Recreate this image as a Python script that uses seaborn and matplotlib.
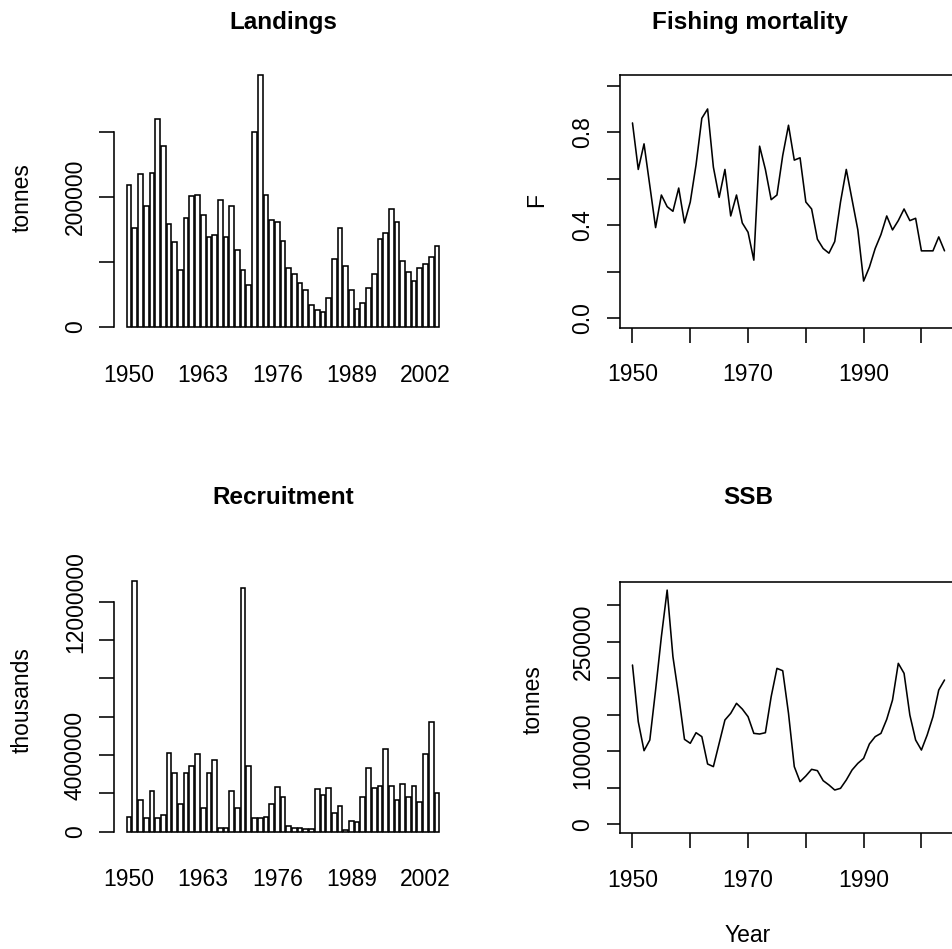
import matplotlib
matplotlib.use("Agg")
import matplotlib.pyplot as plt
import seaborn as sns

# ---------------- data ----------------
years = list(range(1950, 2005))

landings = [218000, 153000, 235000, 187000, 237000, 320000, 279000, 158000, 130000, 88000,
            167000, 201000, 204000, 173000, 139000, 142000, 195000, 139000, 187000, 119000,
            88000, 65000, 300000, 388000, 204000, 164000, 161000, 133000, 91000, 82000,
            68000, 57000, 33000, 26000, 22000, 45000, 104000, 153000, 93000, 57000,
            28000, 37000, 60000, 82000, 135000, 144000, 181000, 161000, 102000, 85000,
            71000, 91000, 97000, 108000, 125000]

recruitment = [780000, 13100000, 1650000, 700000, 2140000, 700000, 870000, 4120000, 3080000, 1440000,
               3080000, 3440000, 4030000, 1250000, 3080000, 3740000, 210000, 210000, 2140000, 1250000,
               12730000, 3440000, 700000, 700000, 780000, 1440000, 2310000, 1830000, 300000, 210000,
               210000, 120000, 120000, 2210000, 1910000, 2300000, 960000, 1340000, 90000, 570000,
               490000, 1830000, 3340000, 2260000, 2380000, 4310000, 2380000, 1650000, 2490000, 1830000,
               2380000, 1530000, 4030000, 5740000, 2000000]

fmort = [0.84, 0.64, 0.75, 0.57, 0.39, 0.53, 0.48, 0.46, 0.56, 0.41,
         0.50, 0.66, 0.86, 0.90, 0.65, 0.52, 0.64, 0.44, 0.53, 0.41,
         0.37, 0.25, 0.74, 0.64, 0.51, 0.53, 0.70, 0.83, 0.68, 0.69,
         0.50, 0.47, 0.34, 0.30, 0.28, 0.33, 0.50, 0.64, 0.51, 0.38,
         0.16, 0.22, 0.30, 0.36, 0.44, 0.38, 0.42, 0.47, 0.42, 0.43,
         0.29, 0.29, 0.29, 0.35, 0.29]

ssb = [217900, 140400, 100700, 115300, 183700, 256600, 320400, 229300, 175500, 116200,
       110800, 125300, 119900, 82500, 78900, 110800, 142700, 151800, 165500, 157700,
       147200, 124400, 123500, 125300, 174600, 213300, 210100, 151800, 78900, 58300,
       66100, 75200, 73400, 59700, 53800, 46900, 49200, 60600, 74300, 83400,
       90200, 109900, 119900, 124400, 143600, 170000, 220200, 206500, 149500, 115300,
       101600, 122200, 147200, 183700, 197400]

bar_tick_idx = [0, 13, 26, 39, 52]
bar_tick_labels = ["1950", "1963", "1976", "1989", "2002"]
line_xticks = [1950, 1960, 1970, 1980, 1990, 2000]
line_xlabels = ["1950", "", "1970", "", "1990", ""]
land_yticks = [0, 100000, 200000, 300000]
land_ylabels = ["0", "", "200000", ""]
rec_yticks = [0, 2000000, 4000000, 6000000, 8000000, 10000000, 12000000]
rec_ylabels = ["0", "", "4000000", "", "", "", "12000000"]
f_yticks = [0.0, 0.2, 0.4, 0.6, 0.8, 1.0]
f_ylabels = ["0.0", "", "0.4", "", "0.8", ""]
ssb_yticks = [0, 50000, 100000, 150000, 200000, 250000, 300000]
ssb_ylabels = ["0", "", "100000", "", "", "250000", ""]

# ---------------- style ----------------
sns.set_style("white")
plt.rcParams["font.family"] = ["Liberation Sans", "DejaVu Sans"]
for k in ["text.color", "axes.labelcolor", "xtick.color", "ytick.color", "axes.edgecolor"]:
    plt.rcParams[k] = "black"
FS = 16.5
LW = 1.15
W, H = 953, 949
PT = 0.72  # points per pixel at dpi 100

fig = plt.figure(figsize=(W / 100, H / 100), dpi=100)


def axpos(l, t, r, b):
    return [l / W, 1 - b / H, (r - l) / W, (b - t) / H]


def ftext(x, y, s, **kw):
    fig.text(x / W, 1 - y / H, s, ha="center", va="center", color="black", **kw)


def style_bar_axes(ax, yticks, ylabels, spine_top):
    for s in ["top", "right", "bottom"]:
        ax.spines[s].set_visible(False)
    ax.spines["left"].set_linewidth(LW)
    ax.spines["left"].set_color("black")
    ax.spines["left"].set_bounds(0, spine_top)
    ax.set_yticks(yticks)
    ax.set_yticklabels(ylabels, rotation=90, ha="center", va="center", fontsize=FS, color="black")
    ax.tick_params(axis="y", direction="out", length=14.7 * PT, width=LW,
                   pad=24 * PT, left=True, color="black")
    ax.set_xticks(bar_tick_idx)
    ax.set_xticklabels(bar_tick_labels, va="center", fontsize=FS, color="black")
    ax.tick_params(axis="x", length=0, pad=35 * PT, bottom=True)
    ax.set_xlabel("")
    ax.set_ylabel("")


def style_line_axes(ax, yticks, ylabels):
    for s in ["top", "right", "bottom", "left"]:
        ax.spines[s].set_visible(True)
        ax.spines[s].set_linewidth(LW)
        ax.spines[s].set_color("black")
    ax.set_xticks(line_xticks)
    ax.set_xticklabels(line_xlabels, va="center", fontsize=FS, color="black")
    ax.tick_params(axis="x", direction="out", length=15 * PT, width=LW,
                   pad=32 * PT, bottom=True, color="black")
    ax.set_yticks(yticks)
    ax.set_yticklabels(ylabels, rotation=90, ha="center", va="center", fontsize=FS, color="black")
    ax.tick_params(axis="y", direction="out", length=13 * PT, width=LW,
                   pad=24 * PT, left=True, color="black")
    ax.set_xlabel("")
    ax.set_ylabel("")


BAR_W = 1 / 1.2

# Landings
ax1 = fig.add_axes(axpos(114, 60, 453, 340))
sns.barplot(x=years, y=landings, color="white", edgecolor="black", linewidth=LW,
            width=BAR_W, saturation=1, errorbar=None, ax=ax1)
ax1.set_xlim(-2.644, 56.82)
ax1.set_ylim(-20525, 411574)
style_bar_axes(ax1, land_yticks, land_ylabels, 300000)

# Recruitment
ax3 = fig.add_axes(axpos(114, 565, 453, 845))
sns.barplot(x=years, y=recruitment, color="white", edgecolor="black", linewidth=LW,
            width=BAR_W, saturation=1, errorbar=None, ax=ax3)
ax3.set_xlim(-2.644, 56.82)
ax3.set_ylim(-693600, 13909000)
style_bar_axes(ax3, rec_yticks, rec_ylabels, 12000000)

# Fishing mortality
ax2 = fig.add_axes(axpos(620, 75, 957, 327.7))
sns.lineplot(x=years, y=fmort, color="black", linewidth=LW, ax=ax2)
ax2.set_xlim(1947.84, 2006.16)
ax2.set_ylim(-0.0404, 1.046)
style_line_axes(ax2, f_yticks, f_ylabels)

# SSB
ax4 = fig.add_axes(axpos(620, 581.7, 957, 833.3))
sns.lineplot(x=years, y=ssb, color="black", linewidth=LW, ax=ax4)
ax4.set_xlim(1947.84, 2006.16)
ax4.set_ylim(-12312, 331874)
style_line_axes(ax4, ssb_yticks, ssb_ylabels)

# titles and axis labels
TFS = 17.5
ftext(283, 22, "Landings", fontsize=TFS, fontweight="bold")
ftext(750, 22, "Fishing mortality", fontsize=TFS, fontweight="bold")
ftext(283, 497, "Recruitment", fontsize=TFS, fontweight="bold")
ftext(748, 497, "SSB", fontsize=TFS, fontweight="bold")
ftext(22, 198, "tonnes", fontsize=FS, rotation=90)
ftext(22, 700, "thousands", fontsize=FS, rotation=90)
ftext(537, 200, "F", fontsize=FS, rotation=90)
ftext(533, 700, "tonnes", fontsize=FS, rotation=90)
ftext(748, 935, "Year", fontsize=FS)

fig.savefig("out.png", dpi=100, facecolor="white")
